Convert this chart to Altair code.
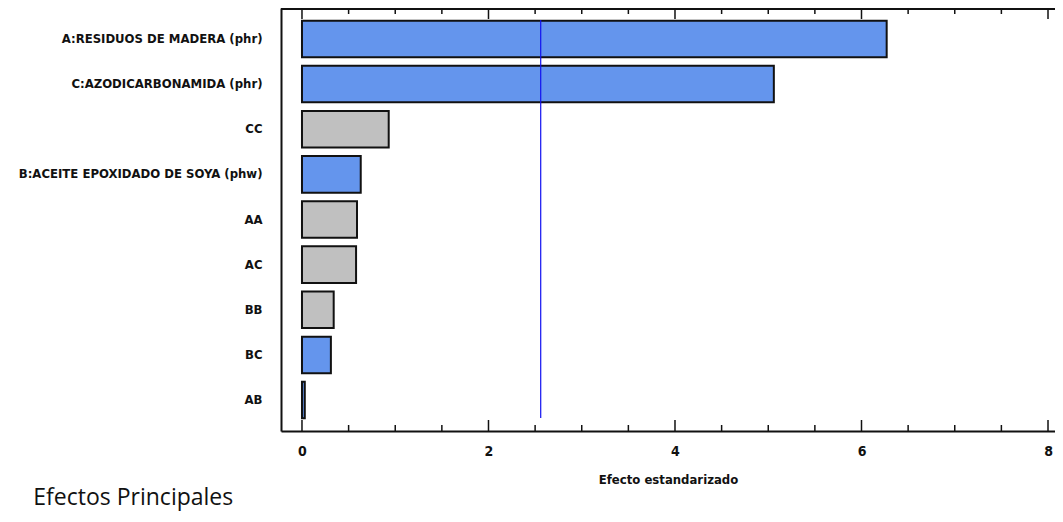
import altair as alt
import pandas as pd

factors = ["A:RESIDUOS DE MADERA (phr)", "C:AZODICARBONAMIDA (phr)", "CC",
           "B:ACEITE EPOXIDADO DE SOYA (phw)", "AA", "AC", "BB", "BC", "AB"]
effects = [6.27, 5.06, 0.93, 0.63, 0.59, 0.58, 0.34, 0.31, 0.03]
signs = ["+", "+", "-", "+", "-", "-", "-", "+", "+"]
major_ticks = [0, 2, 4, 6, 8]
minor_ticks = [0.5, 1, 1.5, 2.5, 3, 3.5, 4.5, 5, 5.5, 6.5, 7, 7.5]
critical_value = [2.56]

FONT = "DejaVu Sans Condensed, Liberation Sans Narrow, sans-serif"
W, H = 774, 423
XDOM = [-0.225, 8.075]

df = pd.DataFrame({"factor": factors, "effect": effects, "sign": signs})
xs = alt.Scale(domain=XDOM, nice=False, zero=False)

bars = alt.Chart(df).mark_bar(stroke="#111111", strokeWidth=2).encode(
    y=alt.Y("factor:N", sort=factors,
            scale=alt.Scale(paddingInner=0.19, paddingOuter=0.28),
            axis=alt.Axis(title=None, ticks=False, labelPadding=19,
                          labelFont=FONT, labelFontSize=13, labelFontWeight="bold",
                          labelColor="#111111", domainColor="#111111", domainWidth=2,
                          labelLimit=400)),
    x=alt.X("effect:Q", scale=xs,
            axis=alt.Axis(title="Efecto estandarizado", values=major_ticks, ticks=False,
                          format="d", grid=False, labelPadding=13, labelFont=FONT,
                          labelFontSize=14, labelFontWeight="bold", labelColor="#111111",
                          domainColor="#111111", domainWidth=2,
                          titleFont=FONT, titleFontSize=13, titleFontWeight="bold",
                          titleColor="#111111", titlePadding=15)),
    x2=alt.datum(0),
    color=alt.Color("sign:N", scale=alt.Scale(domain=["+", "-"], range=["#6495ED", "#C0C0C0"]),
                    legend=None),
)

top_line = alt.Chart(pd.DataFrame({"v": [XDOM[0]]})).mark_rule(color="#111111", strokeWidth=2).encode(
    x=alt.X("v:Q", scale=xs), x2=alt.value(W), y=alt.value(1))

maj_df = pd.DataFrame({"v": major_ticks})
min_df = pd.DataFrame({"v": minor_ticks})
tick_top_major = alt.Chart(maj_df).mark_rule(color="#111111", strokeWidth=1.5).encode(
    x=alt.X("v:Q", scale=xs), y=alt.value(0), y2=alt.value(11))
tick_top_minor = alt.Chart(min_df).mark_rule(color="#111111", strokeWidth=1.5).encode(
    x=alt.X("v:Q", scale=xs), y=alt.value(0), y2=alt.value(6))
tick_bot_major = alt.Chart(maj_df).mark_rule(color="#111111", strokeWidth=1.5).encode(
    x=alt.X("v:Q", scale=xs), y=alt.value(H), y2=alt.value(H - 11))
tick_bot_minor = alt.Chart(min_df).mark_rule(color="#111111", strokeWidth=1.5).encode(
    x=alt.X("v:Q", scale=xs), y=alt.value(H), y2=alt.value(H - 6))

vline = alt.Chart(pd.DataFrame({"v": critical_value})).mark_rule(color="#1010F0", strokeWidth=1.2).encode(
    x=alt.X("v:Q", scale=xs), y=alt.value(12), y2=alt.value(410))

chart = alt.layer(bars, vline, top_line, tick_top_major, tick_top_minor,
                  tick_bot_major, tick_bot_minor).properties(
    width=W, height=H,
    autosize=alt.AutoSizeParams(type="none"),
    padding={"left": 273, "top": 0, "right": 0, "bottom": 83},
    title=alt.TitleParams("Efectos Principales", orient="bottom", anchor="start",
                          font="Open Sans, Carlito, Lato, sans-serif", fontSize=23,
                          fontWeight="normal", color="#111111", offset=1, dx=15),
).configure_view(stroke=None).configure(background="white")

chart.save("out.html", embed_options={"renderer": "svg", "actions": False})
